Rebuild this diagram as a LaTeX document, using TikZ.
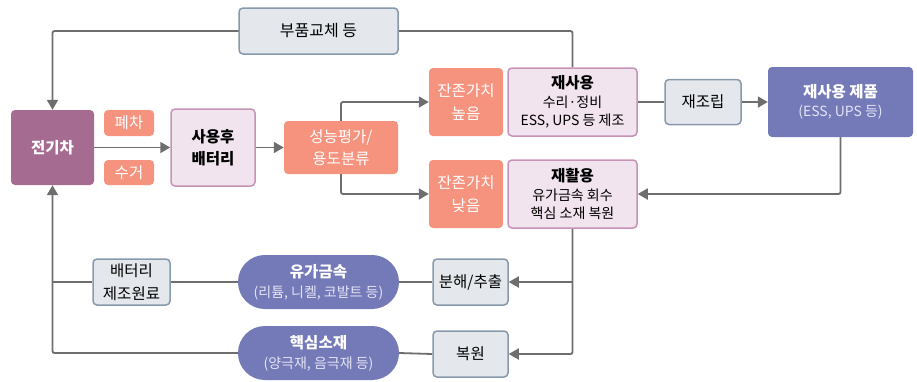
\documentclass[tikz,border=0pt]{standalone}
\usepackage{fontspec}
\setmainfont{Noto Sans CJK KR}
\usetikzlibrary{arrows.meta,backgrounds}
\definecolor{evc}{HTML}{A56B90}
\definecolor{salmon}{HTML}{F6937F}
\definecolor{pinkfill}{HTML}{F1E4EE}
\definecolor{pinkline}{HTML}{C693B6}
\definecolor{grayfill}{HTML}{E4E8ED}
\definecolor{grayline}{HTML}{8799AB}
\definecolor{peri}{HTML}{7479B8}
\definecolor{linegray}{HTML}{6E6E6E}
\definecolor{lighttext}{HTML}{E3E4F4}
\begin{document}
\begin{tikzpicture}[x=1pt,y=-1pt,
  box/.style={rectangle, rounded corners=4pt, inner sep=0pt, align=center, font=\fontsize{15.5}{22.5}\selectfont},
  salmonbox/.style={box, fill=salmon, text=white},
  pinkbox/.style={box, fill=pinkfill, draw=pinkline, line width=1.5pt},
  graybox/.style={box, fill=grayfill, draw=grayline, line width=1.5pt},
  evbox/.style={box, fill=evc, text=white, font=\fontsize{15.5}{22.5}\selectfont\bfseries},
  prodbox/.style={box, fill=peri, text=white, font=\fontsize{14}{19}\selectfont},
  pill/.style={box, fill=peri, text=white, rounded corners=26.9pt, font=\fontsize{14}{20}\selectfont},
  multi/.style={font=\fontsize{14}{17.5}\selectfont},
  conn/.style={draw=linegray, line width=1.8pt, rounded corners=2pt},
  arr/.style={conn, -{Triangle[length=10pt,width=11pt]}}
]
\useasboundingbox (0,0) rectangle (917,381);

\node[graybox, minimum width=159pt, minimum height=46pt, font=\fontsize{16}{22}\selectfont] (parts) at (318.5,31) {부품교체 등};
\node[evbox, minimum width=83pt, minimum height=75pt] (ev) at (52.5,147.5) {전기차};
\node[salmonbox, minimum width=50pt, minimum height=26pt] (scrap) at (129,123) {폐차};
\node[salmonbox, minimum width=50pt, minimum height=25pt] (collect) at (129,172.5) {수거};
\node[pinkbox, minimum width=84pt, minimum height=77pt, font=\fontsize{15.5}{22.5}\selectfont\bfseries] (used) at (213,147.5) {사용후\\배터리};
\node[salmonbox, minimum width=114pt, minimum height=53pt] (perf) at (341,147.5) {성능평가/\\용도분류};
\node[salmonbox, minimum width=74pt, minimum height=68pt] (high) at (466,102) {잔존가치\\높음};
\node[pinkbox, multi, minimum width=129pt, minimum height=68pt] (reuse) at (572.5,102) {{\fontsize{15.5}{17.5}\selectfont\bfseries 재사용}\\[1.5pt]수리·정비\\ESS, UPS 등 제조};
\node[graybox, minimum width=76pt, minimum height=45pt] (reasm) at (703,102) {재조립};
\node[prodbox, minimum width=145pt, minimum height=70pt] (product) at (840.5,102) {{\fontsize{15.5}{19}\selectfont\bfseries 재사용 제품}\\{\color{lighttext}(ESS, UPS 등)}};
\node[salmonbox, minimum width=74pt, minimum height=68pt] (low) at (466,194) {잔존가치\\낮음};
\node[pinkbox, multi, minimum width=129pt, minimum height=68pt] (recyc) at (572.5,194) {{\fontsize{15.5}{17.5}\selectfont\bfseries 재활용}\\[1.5pt]유가금속 회수\\핵심 소재 복원};
\node[graybox, minimum width=77pt, minimum height=46pt] (raw) at (131.5,282) {배터리\\제조원료};
\node[pill, minimum width=161pt, minimum height=54pt] (metal) at (318.5,282) {{\fontsize{15.5}{20}\selectfont\bfseries 유가금속}\\{\color{lighttext}(리튬, 니켈, 코발트 등)}};
\node[graybox, minimum width=75pt, minimum height=46pt] (disasm) at (470.5,282) {분해/추출};
\node[pill, minimum width=161pt, minimum height=54pt] (core) at (318.5,353) {{\fontsize{15.5}{20}\selectfont\bfseries 핵심소재}\\{\color{lighttext}(양극재, 음극재 등)}};
\node[graybox, minimum width=75pt, minimum height=46pt] (restore) at (470.5,354) {복원};

\begin{scope}[on background layer]
\draw[arr] (reuse.north) |- (parts.center) -| (ev.north);
\draw[arr] (ev.east) -- (used.west);
\draw[arr] (used.east) -- (perf.west);
\draw[arr] (perf.north) |- (high.west);
\draw[arr] (perf.south) |- (low.west);
\draw[conn] (reuse.east) -- (reasm.west);
\draw[arr] (reasm.east) -- (product.west);
\draw[arr] (product.south) |- (recyc.east);
\draw[arr] (recyc.south) |- (restore.east);
\draw[arr] (recyc.south |- disasm.east) -- (disasm.east);
\draw[conn] (disasm.west) -- (metal.east);
\draw[conn] (metal.west) -- (raw.east);
\draw[conn] (raw.west) -- (ev.south |- raw.west);
\draw[conn] (restore.west) -- (core.east);
\draw[arr] (core.west) -| (ev.south);
\end{scope}
\end{tikzpicture}
\end{document}
